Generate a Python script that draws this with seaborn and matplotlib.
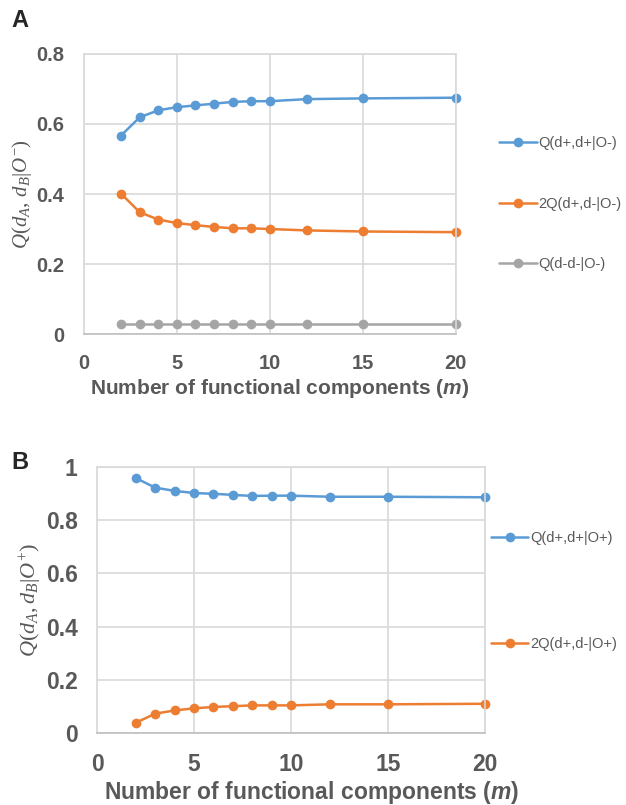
import matplotlib
matplotlib.use("Agg")
import matplotlib.pyplot as plt
import seaborn as sns
import numpy as np
import pandas as pd

m_values = [2, 3, 4, 5, 6, 7, 8, 9, 10, 12, 15, 20]

# panel A (O-)
a_pp = [0.567, 0.619, 0.639, 0.648, 0.653, 0.658, 0.663, 0.665, 0.665, 0.671, 0.673, 0.675]
a_pm = [0.401, 0.348, 0.327, 0.317, 0.311, 0.306, 0.302, 0.302, 0.300, 0.296, 0.293, 0.291]
a_mm = [0.029, 0.029, 0.029, 0.029, 0.029, 0.029, 0.029, 0.029, 0.029, 0.029, 0.029, 0.029]
a_labels = ["Q(d+,d+|O-)", "2Q(d+,d-|O-)", "Q(d-d-|O-)"]

# panel B (O+)
b_pp = [0.958, 0.922, 0.910, 0.902, 0.899, 0.895, 0.891, 0.892, 0.892, 0.888, 0.888, 0.886]
b_pm = [0.040, 0.074, 0.086, 0.094, 0.099, 0.102, 0.105, 0.105, 0.105, 0.109, 0.109, 0.111]
b_labels = ["Q(d+,d+|O+)", "2Q(d+,d-|O+)"]

colors = ["#5B9BD5", "#ED7D31", "#A5A5A5"]
txt = "#595959"

sns.set_style("white")
plt.rcParams["font.family"] = ["Liberation Sans", "DejaVu Sans"]
plt.rcParams["mathtext.fontset"] = "custom"
plt.rcParams["mathtext.rm"] = "Liberation Serif"
plt.rcParams["mathtext.it"] = "Liberation Serif:italic"
plt.rcParams["mathtext.bf"] = "Liberation Sans:bold"
plt.rcParams["mathtext.bfit"] = "Liberation Sans:italic:bold"


def long_df(labels, series):
    frames = [pd.DataFrame({"m": m_values, "value": s, "series": lab})
              for lab, s in zip(labels, series)]
    return pd.concat(frames, ignore_index=True)


def style_axes(ax, ymax, ystep, yfmt, tick_fs, label_fs):
    ax.set_xlim(0, 20)
    ax.set_ylim(0, ymax)
    ax.set_xticks([0, 5, 10, 15, 20])
    yt = np.arange(0, ymax + 1e-9, ystep)
    ax.set_yticks(yt)
    ax.set_yticklabels([yfmt(v) for v in yt])
    ax.grid(True, color="#D9D9D9", linewidth=1.2)
    ax.set_axisbelow(True)
    for sp in ax.spines.values():
        sp.set_color("#D9D9D9")
        sp.set_linewidth(1.2)
    ax.spines["bottom"].set_color("#BFBFBF")
    ax.tick_params(axis="both", length=0, labelsize=tick_fs, labelcolor=txt, pad=14)
    for t in ax.get_xticklabels() + ax.get_yticklabels():
        t.set_fontweight("bold")
    ax.set_xlabel("Number of functional components ($\\mathbfit{m}$)",
                  fontsize=label_fs, fontweight="bold", color=txt)
    ax.xaxis.label.set_va("center")


fig = plt.figure(figsize=(6.26, 8.05), dpi=100)
axA = fig.add_axes([0.134, 0.585, 0.594, 0.348])
axB = fig.add_axes([0.155, 0.089, 0.620, 0.331])

dfA = long_df(a_labels, [a_pp, a_pm, a_mm])
sns.lineplot(data=dfA, x="m", y="value", hue="series", palette=colors,
             marker="o", markersize=7, markeredgewidth=0, linewidth=1.8,
             clip_on=False, ax=axA)
style_axes(axA, 0.8, 0.2, lambda v: "0" if v == 0 else f"{v:.1f}", 14.5, 15)
axA.xaxis.set_label_coords(0.527, -(388 - 334) / 280)
axA.set_ylabel("$Q(d_A,\\,d_B|O^{-})$", fontsize=15, color=txt, labelpad=2)
axA.legend(loc="center left", bbox_to_anchor=(0.785, 0.747),
           bbox_transform=fig.transFigure, frameon=False, fontsize=10.5,
           labelspacing=3.2, handlelength=2.6, handletextpad=0.1, borderpad=0,
           labelcolor=txt)

dfB = long_df(b_labels, [b_pp, b_pm])
sns.lineplot(data=dfB, x="m", y="value", hue="series", palette=colors[:2],
             marker="o", markersize=7, markeredgewidth=0, linewidth=1.8,
             clip_on=False, ax=axB)
style_axes(axB, 1.0, 0.2, lambda v: "0" if v == 0 else ("1" if v == 1 else f"{v:.1f}"),
           16.5, 16.5)
axB.xaxis.set_label_coords(0.552, -(792 - 733) / 266.7)
axB.set_ylabel("$Q(d_A,d_B|O^{+})$", fontsize=16, color=txt, labelpad=1)
axB.legend(loc="center left", bbox_to_anchor=(0.772, 0.266),
           bbox_transform=fig.transFigure, frameon=False, fontsize=10.5,
           labelspacing=6.3, handlelength=2.6, handletextpad=0.1, borderpad=0,
           labelcolor=txt)

fig.text(0.018, 0.975, "A", fontsize=17, fontweight="bold", va="center", ha="left")
fig.text(0.018, 0.426, "B", fontsize=17, fontweight="bold", va="center", ha="left")

fig.savefig("out.png", dpi=100)
